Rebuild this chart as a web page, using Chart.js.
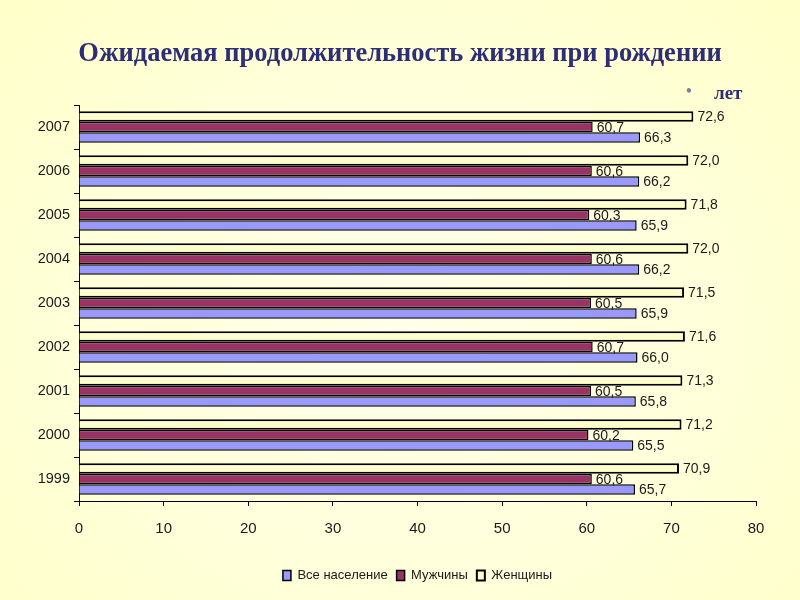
<!DOCTYPE html>
<html>
<head>
  <meta charset="utf-8">
  <title>Ожидаемая продолжительность жизни</title>
  <script src="https://cdn.jsdelivr.net/npm/chart.js"></script>
  <style>
    html, body { margin: 0; padding: 0; }
    body { width: 800px; height: 600px; overflow: hidden;
      background: radial-gradient(ellipse at 50% 55%, #FFFFEA 0%, #FFFFDA 55%, #FFFFC9 100%); }
    #wrap { position: relative; width: 800px; height: 600px; }
    canvas { position: absolute; left: 0; top: 0; }
  </style>
</head>
<body>
<div id="wrap"><canvas id="lifeChart" width="800" height="600"></canvas></div>
<script>
  // categories, top to bottom as in the picture
  const years = ['2007', '2006', '2005', '2004', '2003', '2002', '2001', '2000', '1999'];
  const women = [72.6, 72.0, 71.8, 72.0, 71.5, 71.6, 71.3, 71.2, 70.9];
  const men   = [60.7, 60.6, 60.3, 60.6, 60.5, 60.7, 60.5, 60.2, 60.6];
  const total = [66.3, 66.2, 65.9, 66.2, 65.9, 66.0, 65.8, 65.5, 65.7];
  const xTicks = [0, 10, 20, 30, 40, 50, 60, 70, 80];

  const titleText = 'Ожидаемая продолжительность жизни при рождении';
  const unitText = 'лет';

  const narrow = '"Liberation Sans Narrow", "Arial Narrow", "Liberation Sans", Arial, sans-serif';

  // title, unit and value labels
  const decorPlugin = {
    id: 'decor',
    afterDatasetsDraw(chart) {
      const c = chart.ctx;
      c.save();
      c.fillStyle = '#1a1a1a';
      c.font = '14px ' + narrow;
      c.textBaseline = 'middle';
      c.textAlign = 'left';
      chart.data.datasets.forEach((ds, i) => {
        chart.getDatasetMeta(i).data.forEach((bar, j) => {
          const txt = ds.data[j].toFixed(1).replace('.', ',');
          c.fillText(txt, bar.x + 4, bar.y + 1);
        });
      });
      c.restore();
    },
    afterDraw(chart) {
      const c = chart.ctx;
      c.save();
      c.fillStyle = '#2E2E78';
      c.font = 'bold 26.5px "Liberation Serif", "Times New Roman", serif';
      c.textAlign = 'center';
      c.textBaseline = 'middle';
      c.fillText(titleText, 400, 54);
      c.fillStyle = '#7382A6';
      c.font = '18px "Liberation Serif", serif';
      c.fillText('•', 689, 92);
      c.fillStyle = '#2E2E78';
      c.font = 'bold 19px "Liberation Serif", serif';
      c.textAlign = 'left';
      c.fillText(unitText, 714, 94);
      c.restore();
    }
  };

  const ctx = document.getElementById('lifeChart').getContext('2d');
  new Chart(ctx, {
    type: 'bar',
    data: {
      labels: years,
      datasets: [
        { label: 'Женщины', data: women, backgroundColor: '#FFFFCC', borderColor: '#000', borderWidth: 2 },
        { label: 'Мужчины', data: men, backgroundColor: '#993366', borderColor: '#000', borderWidth: 1.5 },
        { label: 'Все население', data: total, backgroundColor: '#9999FF', borderColor: '#000', borderWidth: 1.5 }
      ]
    },
    options: {
      indexAxis: 'y',
      responsive: false,
      animation: false,
      categoryPercentage: 0.72,
      barPercentage: 1.0,
      layout: { padding: { top: 105, left: 10, right: 44, bottom: 8 } },
      scales: {
        x: {
          min: 0, max: 80,
          afterBuildTicks: s => { s.ticks = xTicks.map(v => ({ value: v })); },
          afterFit: s => { s.height = 59; },
          grid: { drawOnChartArea: false, color: '#000', tickLength: 5 },
          border: { color: '#000', width: 1 },
          ticks: { color: '#1a1a1a', padding: 14, font: { size: 15, family: narrow } }
        },
        y: {
          afterFit: s => { s.width = 69; },
          grid: { drawOnChartArea: false, color: '#000', tickLength: 5, offset: true },
          border: { color: '#000', width: 1 },
          ticks: { color: '#1a1a1a', padding: 4, font: { size: 14.5, family: narrow } }
        }
      },
      plugins: {
        legend: {
          position: 'bottom',
          fullSize: false,
          reverse: true,
          labels: {
            boxWidth: 8, boxHeight: 10, padding: 9,
            color: '#1a1a1a',
            font: { size: 13, family: '"Liberation Sans", Arial, sans-serif' }
          }
        },
        tooltip: { enabled: false }
      }
    },
    plugins: [decorPlugin]
  });
</script>
</body>
</html>
